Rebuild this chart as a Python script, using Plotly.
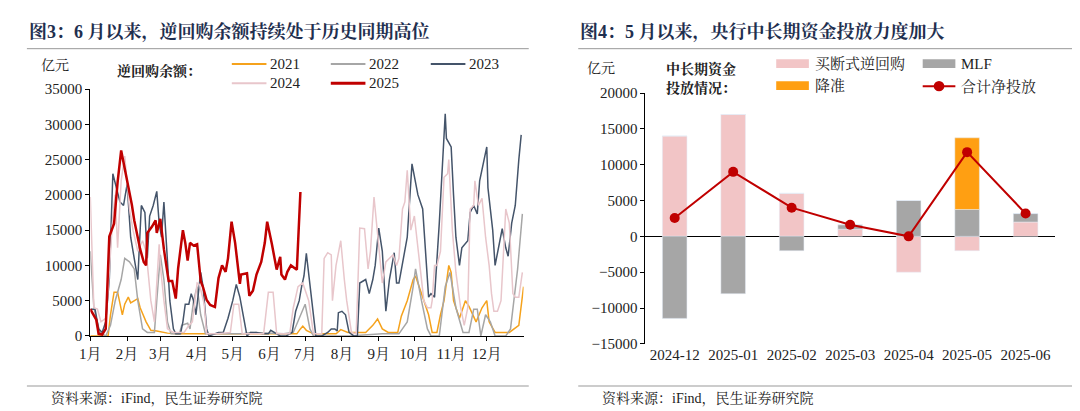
import plotly.graph_objects as go

# ---------- Left chart: reverse repo balance (day of year, 亿元) ----------
d2025 = [0,5,7,10,13,16,20,23,26,31,35,37,40,42,45,47,48,52,55,56,59,62,66,69,72,74,78,80,82,84,87,90,93,95,98,101,105,108,111,114,116,119,122,126,127,132,134,137,140,144,147,149,153,155,157,160,161,164,166,169,172,174,177]
v2025 = [3800,2300,300,200,1000,14100,15900,21800,26300,22200,18600,16400,14100,12300,10500,10000,14600,15500,16400,14600,16600,12300,7800,7800,5300,9600,15000,13200,10700,13200,12800,13000,7800,6900,5100,4400,4100,8200,10000,9100,11000,16200,13200,7400,8700,8900,5700,6400,8700,10500,13200,16200,13000,11000,9400,11200,8700,8000,9100,10000,9600,9400,20400]

d2023 = [0,4,7,10,13,16,19,22,25,28,31,34,37,40,43,46,48,50,53,56,58,60,62,64,67,70,72,76,78,80,83,85,87,89,91,93,95,98,100,104,108,112,116,120,123,126,129,132,135,140,145,150,152,155,160,165,170,173,176,178,180,182,185,188,190,195,200,203,206,208,209,212,215,218,222,225,227,232,235,238,240,243,246,249,252,256,258,260,264,267,271,276,280,285,287,290,294,299,300,304,306,308,311,313,318,320,323,326,328,332,334,335,339,341,344,347,350,352,355,358,361,363]
v2023 = [3800,3800,1000,500,2000,8000,23000,21000,19000,18500,21500,14000,11000,8000,18500,17500,11000,17000,18500,20500,16000,14000,19000,13000,5000,1000,300,300,2000,4500,4500,6000,5000,3000,6000,9000,7000,1000,0,200,500,500,2500,5000,7300,5500,3000,0,500,500,300,300,800,500,0,0,500,3500,5000,7000,8500,11700,7500,2500,0,0,500,1000,1000,700,3300,3500,3000,500,0,0,7500,8000,6000,8000,10000,15300,12000,3500,8000,11800,7500,7500,11000,14000,24400,20000,18000,5500,6000,5500,16000,31500,28000,26800,20000,14000,10000,12500,13500,17500,18500,17300,22000,25500,26800,21000,15000,10000,12500,15200,12500,11300,16000,18500,25000,28500]

d2024 = [0,3,6,9,13,15,19,21,23,26,29,33,36,40,44,47,51,54,58,59,62,65,70,79,83,86,90,92,96,98,107,118,121,125,128,146,150,154,157,168,171,175,179,184,188,195,197,200,203,204,207,209,211,214,216,220,224,227,231,234,236,239,242,246,249,255,258,260,263,265,267,270,273,277,281,284,287,288,290,292,295,298,301,302,305,308,312,315,318,320,323,324,327,330,333,336,338,340,343,346,347,350,353,356,358,361,364]
v2024 = [19700,4000,3800,2000,2500,6500,17000,20000,12500,22000,25500,18000,15000,12000,13500,12000,5000,2000,13000,10000,5000,1000,500,500,1500,2000,7500,7300,4500,300,300,500,4500,4500,300,300,6200,6200,300,300,4000,7000,7500,5000,300,300,11000,11800,11500,5000,10000,12000,13500,8000,5000,500,300,15300,15200,9500,12000,19700,14000,7500,10500,11500,10000,11000,18000,19000,23500,15000,17000,11000,5000,4000,4000,5000,10000,10000,12000,22500,23000,25000,15000,9000,4000,1500,4000,18000,18500,22000,18500,19500,14000,10000,6000,3500,3500,5000,8000,18000,16000,6000,5500,5500,9000]

d2022 = [0,3,8,13,17,21,26,29,33,37,40,44,48,54,56,59,62,65,68,75,77,82,84,87,90,93,97,129,135,163,171,177,181,185,188,218,246,260,267,272,274,279,284,287,294,299,303,308,314,319,323,326,329,333,337,341,350,354,360,364]
v2022 = [12000,4000,500,0,1500,5000,8000,11000,10500,9500,5000,1000,500,500,5000,11500,8000,2000,300,300,1500,1800,1000,5000,7000,3000,300,300,500,300,500,3000,4500,1000,0,0,300,300,2000,7000,9500,5000,1000,0,0,7000,9000,4000,500,500,3800,3800,0,3000,2000,0,0,1000,9500,17300]

d2021 = [0,15,17,20,23,27,29,32,34,37,40,42,47,51,56,65,73,96,118,174,177,179,182,188,207,211,217,232,238,242,246,251,259,262,267,272,274,278,281,285,288,292,295,298,302,304,306,311,312,316,319,325,327,330,334,336,341,353,361,365]
v2021 = [0,0,3000,6200,6200,3000,4500,5500,4700,5000,5300,4000,2000,800,700,400,300,300,300,300,1000,1400,800,300,300,900,500,500,1500,2400,1000,500,500,2800,5000,8000,8500,6500,5000,3000,500,500,3000,5000,10000,9000,5000,2500,3000,5000,4200,2000,2800,4000,5000,2000,500,500,1500,7000]

month_days = [0,31,59,90,120,151,181,212,243,273,304,334]
month_labels = ["1月","2月","3月","4月","5月","6月","7月","8月","9月","10月","11月","12月"]

# ---------- Right chart: medium/long-term liquidity (亿元) ----------
months = ["2024-12","2025-01","2025-02","2025-03","2025-04","2025-05","2025-06"]
outright_repo = [14000,17000,6000,1000,-5000,-2000,2000]
mlf = [-11450,-8000,-2000,630,5000,3750,1180]
rrr_cut = [0,0,0,0,0,10000,0]
net_injection = [2550,9000,4000,1630,0,11750,3180]

FONT = "Liberation Serif, Noto Serif CJK SC, Noto Sans CJK SC"
fig = go.Figure()

series = [("2021", d2021, v2021, "#f5a21c", 1.5),
          ("2022", d2022, v2022, "#a6a6a6", 1.5),
          ("2023", d2023, v2023, "#44546a", 1.5),
          ("2024", d2024, v2024, "#e8c6cb", 1.5),
          ("2025", d2025, v2025, "#c00000", 2.5)]
for name, d, v, c, w in series:
    fig.add_trace(go.Scatter(x=d, y=v, mode="lines", name=name,
                             line=dict(color=c, width=w), xaxis="x", yaxis="y", showlegend=False))

fig.add_trace(go.Bar(x=months, y=outright_repo, marker_color="#f2c5c6", width=0.42, xaxis="x2", yaxis="y2", showlegend=False))
fig.add_trace(go.Bar(x=months, y=mlf, marker_color="#a6a6a6", width=0.42, xaxis="x2", yaxis="y2", showlegend=False))
fig.add_trace(go.Bar(x=months, y=rrr_cut, marker_color="#ff9f12", width=0.42, xaxis="x2", yaxis="y2", showlegend=False))
fig.add_trace(go.Scatter(x=months, y=net_injection, mode="lines+markers", line=dict(color="#c00000", width=2),
                         marker=dict(size=10, color="#c00000"), xaxis="x2", yaxis="y2", showlegend=False))

ax = dict(showline=True, linecolor="black", linewidth=1, ticks="outside", ticklen=4, tickcolor="black",
          showgrid=False, tickfont=dict(family=FONT, size=15, color="#222"))
fig.update_layout(
    width=1080, height=411, margin=dict(l=0, r=0, t=0, b=0),
    paper_bgcolor="white", plot_bgcolor="white", barmode="relative",
    xaxis=dict(ax, domain=[0.0667, 0.472], range=[0, 365], tickvals=month_days, ticktext=month_labels, anchor="y"),
    yaxis=dict(ax, domain=[0.19, 0.815], range=[0, 35000], dtick=5000, tickformat="d", anchor="x"),
    xaxis2=dict(ax, domain=[0.586, 0.969], type="category", showline=False, ticks="", anchor="y2"),
    yaxis2=dict(ax, domain=[0.17, 0.805], range=[-15000, 20000], dtick=5000, tickformat="d", anchor="x2",
                zeroline=True, zerolinecolor="black", zerolinewidth=1),
)

ann = []
shapes = []
def txt(x, y, s, size=13, bold=False, color="#222", xanchor="left"):
    ann.append(dict(x=x, y=y, xref="paper", yref="paper", text=("<b>%s</b>" % s) if bold else s,
                    showarrow=False, xanchor=xanchor, yanchor="middle",
                    font=dict(family=FONT, size=size, color=color)))
def px(x, y):
    return x/1080, 1 - y/411

# titles
for (x0, x1, t) in [(8, 515, "图3：6 月以来，逆回购余额持续处于历史同期高位"), (565, 1075, "图4：5 月以来，央行中长期资金投放力度加大")]:
    X, Y = px(x0, 17)
    txt(X, Y, t, size=18, bold=True, color="#1f2f4f")
    for yy in (34, 385):
        a, b = px(x0, yy)
        c, _ = px(x1, yy)
        shapes.append(dict(type="line", xref="paper", yref="paper", x0=a, x1=c, y0=b, y1=b, line=dict(color="#999", width=1)))
    X, Y = px(x0 + 22, 398)
    txt(X, Y, "资料来源：iFind，民生证券研究院", size=14)

# unit labels
X, Y = px(20, 52); txt(X, Y, "亿元", 14)
X, Y = px(572, 55); txt(X, Y, "亿元", 14)

# left legend
X, Y = px(97, 57); txt(X, Y, "逆回购余额：", 14, bold=True)
for name, c, w, (lx, ly) in [("2021", "#f5a21c", 2, (215, 50)), ("2022", "#a6a6a6", 2, (315, 50)),
                              ("2023", "#44546a", 2, (416, 50)), ("2024", "#e8c6cb", 2, (215, 70)),
                              ("2025", "#c00000", 3, (315, 70))]:
    a, b = px(lx, ly); c2, _ = px(lx + 35, ly)
    shapes.append(dict(type="line", xref="paper", yref="paper", x0=a, x1=c2, y0=b, y1=b, line=dict(color=c, width=w)))
    X, Y = px(lx + 37, ly); txt(X, Y, name, 15)

# right legend
X, Y = px(652, 55); txt(X, Y, "中长期资金", 14, bold=True)
X, Y = px(652, 75); txt(X, Y, "投放情况：", 14, bold=True)
for name, c, (lx, ly) in [("买断式逆回购", "#f2c5c6", (765, 50)), ("降准", "#ff9f12", (765, 73)), ("MLF", "#a6a6a6", (913, 50))]:
    a, b = px(lx, ly - 5); c2, d = px(lx + 33, ly + 4)
    shapes.append(dict(type="rect", xref="paper", yref="paper", x0=a, x1=c2, y0=d, y1=b, line=dict(width=0), fillcolor=c))
    X, Y = px(lx + 37, ly); txt(X, Y, name, 15)
a, b = px(913, 73); c2, _ = px(946, 73)
shapes.append(dict(type="line", xref="paper", yref="paper", x0=a, x1=c2, y0=b, y1=b, line=dict(color="#c00000", width=2)))
m, _ = px(929.5, 73)
shapes.append(dict(type="circle", xref="paper", yref="paper", x0=m - 0.005, x1=m + 0.005, y0=b - 0.013, y1=b + 0.013,
                   line=dict(width=0), fillcolor="#c00000"))
X, Y = px(950, 73); txt(X, Y, "合计净投放", 15)

fig.update_layout(annotations=ann, shapes=shapes)
fig.write_html("out.html")
